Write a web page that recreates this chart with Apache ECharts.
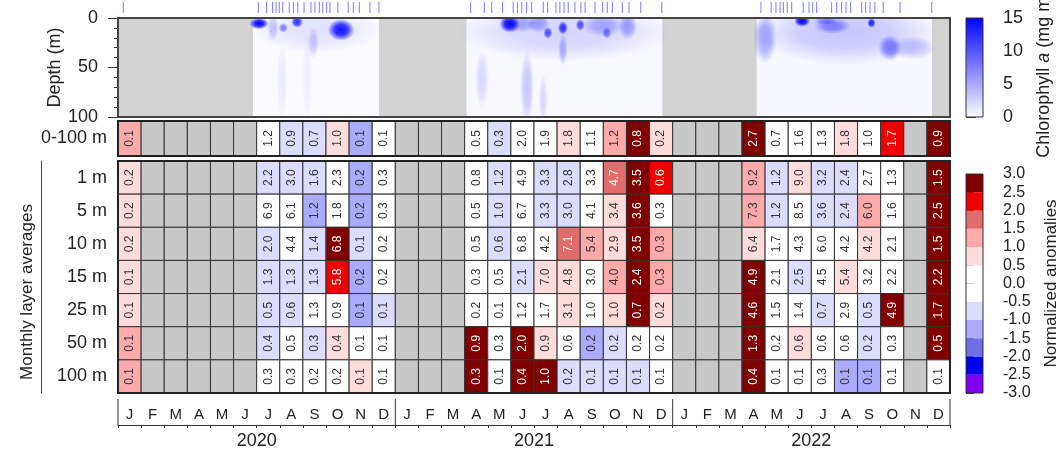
<!DOCTYPE html>
<html><head><meta charset="utf-8">
<script src="https://cdn.jsdelivr.net/npm/echarts@6/dist/echarts.min.js"></script>
<style>html,body{margin:0;padding:0;background:#fff}#c{width:1058px;height:452px}</style>
</head><body><div id="c"></div>
<script>
const N = null;
const monthLetters = ['J','F','M','A','M','J','J','A','S','O','N','D'];
const years = ['2020','2021','2022'];
const layers = ['1 m','5 m','10 m','15 m','25 m','50 m','100 m'];

// Chlorophyll a values (labels) and normalized anomalies (colour) per month, Jan 2020 .. Dec 2022
const chl0_100 = [0.1,N,N,N,N,N, 1.2,0.9,0.7,1.0,0.1,0.1, N,N,N, 0.5,0.3,2.0,1.9,1.8,1.1,1.2,0.8,0.2, N,N,N, 2.7,0.7,1.6,1.3,1.8,1.0,1.7,N,0.9];
const anom0_100 = [1.25,N,N,N,N,N, 0,-0.75,-0.75,0.75,-1.25,0, N,N,N, 0,-0.75,0,0,0.75,0,1.25,2.75,0.75, N,N,N, 2.75,0,0,0,0.75,0,2.25,N,2.75];

const chl1 = [0.2,N,N,N,N,N, 2.2,3.0,1.6,2.3,0.2,0.3, N,N,N, 0.8,1.2,4.9,3.3,2.8,3.3,4.7,3.5,0.6, N,N,N, 9.2,1.2,9.0,3.2,2.4,2.7,1.3,N,1.5];
const anom1 = [0.75,N,N,N,N,N, -0.75,-0.75,-0.75,0,-1.25,0, N,N,N, 0,-0.75,0,-0.75,-0.75,0,1.75,2.75,2.25, N,N,N, 1.25,-0.75,0.75,-0.75,-0.75,0,0,N,2.75];
const chl5 = [0.2,N,N,N,N,N, 6.9,6.1,1.2,1.8,0.2,0.3, N,N,N, 0.5,1.0,6.7,3.3,3.0,4.1,3.4,3.6,0.3, N,N,N, 7.3,1.2,8.5,3.6,2.4,6.0,1.6,N,2.5];
const anom5 = [0.75,N,N,N,N,N, 0,0,-1.25,0,-1.25,0, N,N,N, 0,-0.75,0,-0.75,-0.75,0,0.75,2.75,0, N,N,N, 1.25,-0.75,0,-0.75,-0.75,1.25,0,N,2.75];
const chl10 = [0.2,N,N,N,N,N, 2.0,4.4,1.4,6.8,0.1,0.2, N,N,N, 0.5,0.6,6.8,4.2,7.1,5.4,2.9,3.5,0.3, N,N,N, 6.4,1.7,4.3,6.0,4.2,4.2,2.1,N,1.5];
const anom10 = [0.75,N,N,N,N,N, -0.75,0,-0.75,2.75,-0.75,0, N,N,N, 0,-0.75,0,0,1.75,1.25,0.75,2.75,1.25, N,N,N, 0.75,0,0,0,0,0.75,0,N,2.75];
const chl15 = [0.1,N,N,N,N,N, 1.3,1.3,1.3,5.8,0.2,0.2, N,N,N, 0.3,0.5,2.1,7.0,4.8,3.0,4.0,2.4,0.3, N,N,N, 4.9,2.1,2.5,4.5,5.4,3.2,2.2,N,2.2];
const anom15 = [0.75,N,N,N,N,N, -0.75,-0.75,-0.75,2.25,-1.25,0, N,N,N, 0,0,-0.75,0.75,0.75,0,1.25,2.75,1.25, N,N,N, 2.75,0,-0.75,0,0.75,0,0,N,2.75];
const chl25 = [0.1,N,N,N,N,N, 0.5,0.6,1.3,0.9,0.1,0.1, N,N,N, 0.2,0.1,1.2,1.7,3.1,1.0,1.0,0.7,0.2, N,N,N, 4.6,1.5,1.4,0.7,2.9,0.5,4.9,N,1.7];
const anom25 = [0.75,N,N,N,N,N, -0.75,-0.75,0,0,-1.25,-0.75, N,N,N, 0,0,0,0,0.75,0,0.75,2.75,0.75, N,N,N, 2.75,0,0,-0.75,0,-0.75,2.75,N,2.75];
const chl50 = [0.1,N,N,N,N,N, 0.4,0.5,0.3,0.4,0.1,0.1, N,N,N, 0.9,0.3,2.0,0.9,0.6,0.2,0.2,0.2,0.2, N,N,N, 1.3,0.2,0.6,0.6,0.6,0.2,0.3,N,0.5];
const anom50 = [1.25,N,N,N,N,N, -0.75,0,-0.75,0.75,0,0, N,N,N, 2.75,0,2.75,0.75,0,-1.25,-0.75,0,0, N,N,N, 2.75,0,0.75,0,0,-0.75,0,N,2.75];
const chl100 = [0.1,N,N,N,N,N, 0.3,0.3,0.2,0.2,0.1,0.1, N,N,N, 0.3,0.1,0.4,1.0,0.2,0.1,0.1,0.1,0.1, N,N,N, 0.4,0.1,0.1,0.3,0.1,0.1,0.1,N,0.1];
const anom100 = [1.25,N,N,N,N,N, 0,0,0,0,0.75,0, N,N,N, 2.75,0,2.75,2.75,-0.75,-0.75,-0.75,-0.75,0, N,N,N, 2.75,0,0,0,-1.25,-1.25,0,N,0];

// anomaly colour classes
const anomBreaks = [-3,-2.5,-2,-1.5,-1,-0.5,0,0.5,1,1.5,2,2.5,3];
const anomColors = ['#7f00ee','#0000ee','#6e6ee6','#aaaaff','#dcdcff','#ffffff','#ffffff','#ffdcdc','#ffaaaa','#e06c6c','#ee0000','#800000'];

// sampling dates (months since Jan 2020)
const sampleDates = [0.23, 6.07,6.43,6.69,6.84,6.98,7.13,7.41,7.59,7.78,8.05,8.35,8.52,8.71,8.86,9.03,9.17,9.51,9.96,10.18,10.44,10.90,11.29,
 15.26,15.85,16.17,16.64,17.10,17.28,17.47,17.68,17.90,18.40,18.59,18.95,19.12,19.30,19.48,19.77,20.03,20.21,20.64,20.97,21.17,21.39,21.82,22.11,22.62,23.53,
 27.82,28.26,28.47,28.65,28.79,28.96,29.15,29.65,29.90,30.06,30.23,30.88,31.10,31.31,31.50,31.70,32.18,32.35,32.54,32.75,33.11,33.84,35.21];

// profile periods: [start, end, baseline chl]
const chlPeriods = [[5.84,11.29,0.25],[15.08,23.55,0.4],[27.64,35.22,0.5]];
// chlorophyll patches: [time centre, depth centre, time half-width, depth half-height, peak chl]
const chlPatches = [
 [8.6,12,2.9,24,1.5],[6.7,10,0.25,14,3],[6.1,5.5,0.42,6,15],[7.15,10,0.2,5,7],[7.75,4,0.26,6,12],[8.45,25,0.25,16,2.5],[9.65,12,0.58,11,14],[7.1,65,0.25,40,1.0],[8.2,60,0.25,45,0.8],
 [19.3,14,4.6,30,2.2],[16.95,6,0.45,9,15],[17.5,6,0.6,9,4],[18.2,6,0.5,9,4.5],[18.6,15,0.2,6,10],[19.25,10,0.22,7,12],[19.25,32,0.2,16,4],[20.0,7,0.2,6,10],[21.0,8,0.9,11,4],[21.15,15,0.2,6,7],[22.05,8,0.4,14,5],[15.75,62,0.3,30,2],[17.7,70,0.3,38,3],[18.4,82,0.2,25,2],
 [31.5,15,4.0,32,3],[28.0,20,0.5,26,5],[29.6,3,0.35,6,15],[30.9,8,0.8,8,6],[30.6,3,0.5,4,5],[32.6,5,0.18,5,13],[33.4,30,0.5,13,7],[34.4,30,1.0,12,3]
];

const FONT = 'Liberation Sans';
const TXT = '#222';
function anomColor(a){
  for (let i = 0; i < anomColors.length; i++) if (a >= anomBreaks[i] && a < anomBreaks[i+1]) return anomColors[i];
  return a >= 3 ? anomColors[anomColors.length-1] : anomColors[0];
}
function anomText(a){ return (a >= 1.5 || a < -1.5) ? '#ffffff' : '#333333'; }
function chlColor(v, alpha){ return 'rgba(0,0,255,' + Math.max(0, Math.min(1, v/15)) * (alpha===undefined?1:alpha) + ')'; }

function cellSeries(xi, yi, chlRows, anomRows){
  const data = [], info = [];
  chlRows.forEach((row, r) => row.forEach((v, m) => { data.push([m, r]); info.push([v, anomRows[r][m]]); }));
  return {type:'custom', xAxisIndex:xi, yAxisIndex:yi, data, encode:{x:0,y:1}, silent:true, z:3,
    renderItem(params, api){
      const m = api.value(0), r = api.value(1);
      const p0 = api.coord([m, r]), p1 = api.coord([m+1, r]);
      const h = api.size([0, 1])[1];
      const [v, a] = info[params.dataIndex];
      const miss = v === null;
      const ch = [{type:'rect', shape:{x:p0[0], y:p0[1]-h/2, width:p1[0]-p0[0], height:h},
        style:{fill: miss ? '#c8c8c8' : anomColor(a), stroke:'#333', lineWidth:1}}];
      if (!miss) ch.push({type:'text', x:(p0[0]+p1[0])/2, y:p0[1], rotation:Math.PI/2,
        style:{text:v.toFixed(1), fill:anomText(a), fontSize:12, fontFamily:FONT, align:'center', verticalAlign:'middle', textAlign:'center', textVerticalAlign:'middle'}});
      return {type:'group', children:ch};
    }};
}
function catFrame(xi, yi, n){
  return {type:'custom', xAxisIndex:xi, yAxisIndex:yi, data:[[0,0,36,n-1]], silent:true, z:10,
    renderItem(p, api){
      const a = api.coord([api.value(0), api.value(1)]), b = api.coord([api.value(2), api.value(3)]);
      const h = api.size([0,1])[1];
      const y0 = Math.min(a[1], b[1]) - h/2, y1 = Math.max(a[1], b[1]) + h/2;
      return {type:'rect', shape:{x:a[0], y:y0, width:b[0]-a[0], height:y1-y0}, style:{fill:'none', stroke:'#222', lineWidth:2}};
    }};
}

const hidX = (g, min, max) => ({type:'value', gridIndex:g, min, max, show:false});
const catY = (g, data, inverse) => ({type:'category', gridIndex:g, data, inverse:!!inverse,
  axisLine:{show:false}, axisTick:{show:false}, axisLabel:{fontSize:18, fontFamily:FONT, color:TXT, margin:11}});

const option = {
  animation:false,
  backgroundColor:'#ffffff',
  textStyle:{fontFamily:FONT},
  grid:[
    {left:118, top:18, width:832, height:99, show:true, backgroundColor:'#d3d3d3', borderWidth:0, outerBoundsMode:'none'},
    {left:118, top:121, width:832, height:35, outerBoundsMode:'none'},
    {left:118, top:161, width:832, height:232, outerBoundsMode:'none'},
    {left:118, top:399, width:832, height:26, outerBoundsMode:'none'},
    {left:118, top:2, width:832, height:11, outerBoundsMode:'none'},
    {left:966, top:18, width:17, height:99, outerBoundsMode:'none'},
    {left:966, top:174, width:17, height:219, outerBoundsMode:'none'}
  ],
  xAxis:[
    hidX(0,0,36), hidX(1,0,36), hidX(2,0,36),
    {type:'category', gridIndex:3, position:'top', data:Array.from({length:36},(_, i)=>String(i)),
      axisLine:{show:true, lineStyle:{color:'#333', width:1}},
      axisTick:{show:true, inside:true, length:3, lineStyle:{color:'#333'}},
      axisLabel:{inside:true, interval:0, margin:8, fontSize:15, fontFamily:FONT, color:TXT, formatter:v => monthLetters[Number(v) % 12]}},
    {type:'category', gridIndex:3, position:'bottom', data:years, axisLine:{show:false}, axisTick:{show:false},
      axisLabel:{fontSize:18, fontFamily:FONT, color:TXT, margin:7}},
    hidX(3,0,36), hidX(4,0,36), hidX(5,0,1), hidX(6,0,1)
  ],
  yAxis:[
    {type:'value', gridIndex:0, min:0, max:100, interval:50, inverse:true,
      axisLine:{show:true, lineStyle:{color:'#333', width:1}},
      axisTick:{show:true, length:10, lineStyle:{color:'#333'}},
      minorTick:{show:true, splitNumber:5, length:4, lineStyle:{color:'#333'}},
      splitLine:{show:false},
      axisLabel:{fontSize:18, fontFamily:FONT, color:TXT, margin:20},
      name:'Depth (m)', nameLocation:'middle', nameRotate:90, nameGap:54, nameMoveOverlap:false,
      nameTextStyle:{fontSize:18, fontFamily:FONT, color:TXT}},
    catY(1, ['0-100 m']),
    catY(2, layers, true),
    {type:'category', gridIndex:2, data:layers, inverse:true, position:'left', offset:77,
      axisLine:{show:true, lineStyle:{color:'#444', width:1}}, axisTick:{show:false}, axisLabel:{show:false}},
    {type:'value', gridIndex:3, min:0, max:1, show:false},
    {type:'value', gridIndex:4, min:0, max:1, show:false},
    {type:'value', gridIndex:5, min:0, max:15, interval:5, position:'right',
      axisLine:{show:true, lineStyle:{color:'#333'}}, axisTick:{show:true, length:10, lineStyle:{color:'#333'}},
      splitLine:{show:false}, axisLabel:{fontSize:18, fontFamily:FONT, color:TXT, margin:20},
      name:'Chlorophyll {i|a} (mg m{s|−3})', nameLocation:'middle', nameRotate:90, nameGap:52, nameMoveOverlap:false,
      nameTextStyle:{fontSize:18, fontFamily:FONT, color:TXT,
        rich:{i:{fontStyle:'italic', fontSize:18, fontFamily:FONT, color:TXT}, s:{fontSize:12, fontFamily:FONT, color:TXT, verticalAlign:'top'}}}},
    {type:'value', gridIndex:6, min:-3, max:3, interval:0.5, position:'right',
      axisLine:{show:true, lineStyle:{color:'#333'}}, axisTick:{show:true, length:8, lineStyle:{color:'#333'}},
      splitLine:{show:false}, axisLabel:{fontSize:16, fontFamily:FONT, color:TXT, margin:20, formatter:v => Number(v).toFixed(1)},
      name:'Normalized anomalies', nameLocation:'middle', nameRotate:90, nameGap:60, nameMoveOverlap:false,
      nameTextStyle:{fontSize:17, fontFamily:FONT, color:TXT}}
  ],
  graphic:[
    {type:'text', x:27, y:292, rotation:Math.PI/2, style:{text:'Monthly layer averages', fontSize:17, fontFamily:FONT, fill:TXT, align:'center', verticalAlign:'middle'}}
  ],
  series:[
    // depth panel: baseline per profiling period
    {type:'custom', xAxisIndex:0, yAxisIndex:0, data:chlPeriods, clip:true, silent:true, z:2,
      renderItem(p, api){
        const a = api.coord([api.value(0), 0]), b = api.coord([api.value(1), 100]);
        const g = Math.round(255*(1-api.value(2)/15));
        return {type:'rect', shape:{x:a[0], y:a[1], width:b[0]-a[0], height:b[1]-a[1]}, style:{fill:'rgb(' + g + ',' + g + ',255)'}};
      }},
    // depth panel: chlorophyll patches
    {type:'custom', xAxisIndex:0, yAxisIndex:0, data:chlPatches, clip:true, silent:true, z:3,
      renderItem(p, api){
        const c = api.coord([api.value(0), api.value(1)]);
        const s = api.size([api.value(2), api.value(3)]);
        const v = api.value(4);
        return {type:'circle', x:c[0], y:c[1], scaleX:Math.abs(s[0]), scaleY:Math.abs(s[1]), shape:{cx:0, cy:0, r:1},
          style:{fill:new echarts.graphic.RadialGradient(0.5, 0.5, 0.5, [
            {offset:0, color:chlColor(v)}, {offset:0.5, color:chlColor(v, 0.8)}, {offset:1, color:chlColor(v, 0)}])}};
      }},
    // depth panel frame
    {type:'custom', xAxisIndex:0, yAxisIndex:0, data:[[0,0,36,100]], silent:true, z:10,
      renderItem(p, api){
        const a = api.coord([api.value(0), api.value(1)]), b = api.coord([api.value(2), api.value(3)]);
        return {type:'rect', shape:{x:a[0], y:a[1], width:b[0]-a[0], height:b[1]-a[1]}, style:{fill:'none', stroke:'#444', lineWidth:2}};
      }},
    cellSeries(1, 1, [chl0_100], [anom0_100]),
    catFrame(1, 1, 1),
    cellSeries(2, 2, [chl1, chl5, chl10, chl15, chl25, chl50, chl100], [anom1, anom5, anom10, anom15, anom25, anom50, anom100]),
    catFrame(2, 2, 7),
    // year separators
    {type:'custom', xAxisIndex:5, yAxisIndex:4, data:[[0],[12],[24],[36]], silent:true,
      renderItem(p, api){
        const a = api.coord([api.value(0), 1]), b = api.coord([api.value(0), 0]);
        return {type:'line', shape:{x1:a[0], y1:a[1], x2:b[0], y2:b[1]}, style:{stroke:'#333', lineWidth:1}};
      }},
    // sampling dates
    {type:'custom', xAxisIndex:6, yAxisIndex:5, data:sampleDates.map(d => [d]), silent:true,
      renderItem(p, api){
        const a = api.coord([api.value(0), 1]), b = api.coord([api.value(0), 0]);
        return {type:'line', shape:{x1:a[0], y1:a[1], x2:b[0], y2:b[1]}, style:{stroke:'#7a7aff', lineWidth:1}};
      }},
    // chlorophyll colour bar
    {type:'custom', xAxisIndex:7, yAxisIndex:6, data:[[0,15]], silent:true,
      renderItem(p, api){
        const a = api.coord([0, api.value(1)]), b = api.coord([1, api.value(0)]);
        return {type:'rect', shape:{x:a[0], y:a[1], width:b[0]-a[0], height:b[1]-a[1]},
          style:{fill:new echarts.graphic.LinearGradient(0,0,0,1,[{offset:0,color:chlColor(15)},{offset:1,color:'#ffffff'}]), stroke:'#333', lineWidth:1}};
      }},
    // anomaly colour bar
    {type:'custom', xAxisIndex:8, yAxisIndex:7, data:anomColors.map((c, i) => [anomBreaks[i], anomBreaks[i+1], i]), silent:true,
      renderItem(p, api){
        const a = api.coord([0, api.value(1)]), b = api.coord([1, api.value(0)]);
        return {type:'rect', shape:{x:a[0], y:a[1], width:b[0]-a[0], height:b[1]-a[1]}, style:{fill:anomColors[api.value(2)]}};
      }},
    {type:'custom', xAxisIndex:8, yAxisIndex:7, data:[[-3,3]], silent:true, z:5,
      renderItem(p, api){
        const a = api.coord([0, api.value(1)]), b = api.coord([1, api.value(0)]);
        return {type:'rect', shape:{x:a[0], y:a[1], width:b[0]-a[0], height:b[1]-a[1]}, style:{fill:'none', stroke:'#333', lineWidth:1}};
      }}
  ]
};
const chart = echarts.init(document.getElementById('c'));
chart.setOption(option);
</script></body></html>
